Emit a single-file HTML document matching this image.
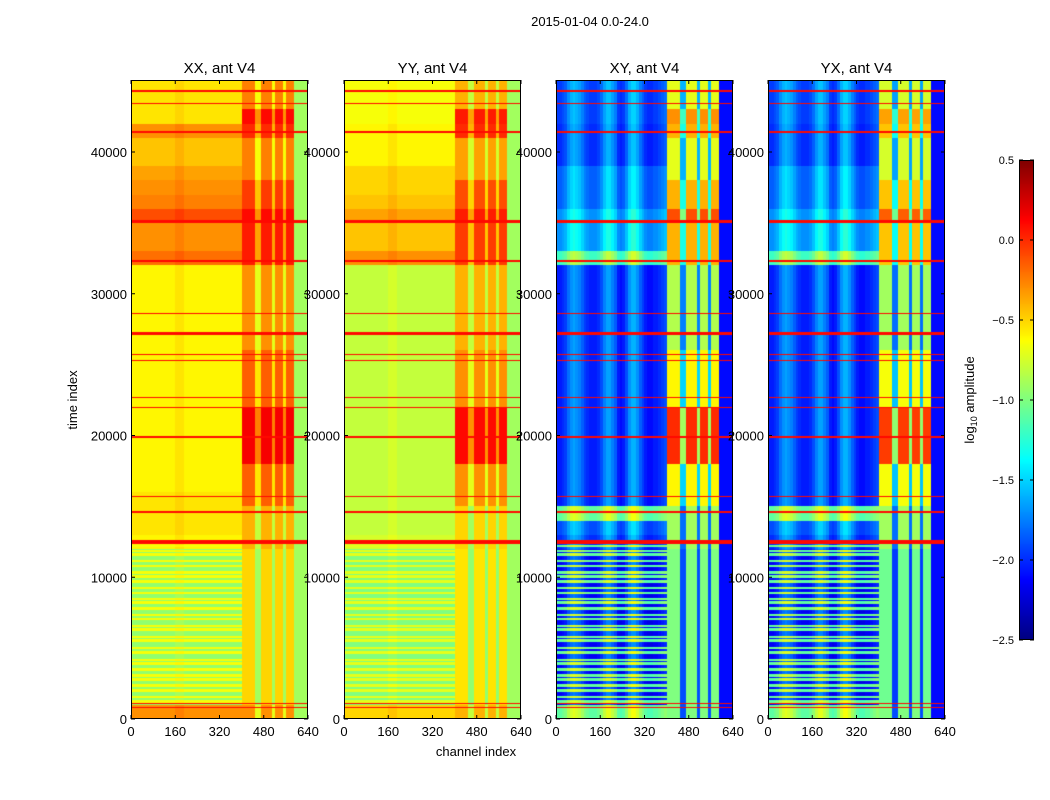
<!DOCTYPE html>
<html><head><meta charset="utf-8">
<style>
html,body{margin:0;padding:0;background:#fff;}
#wrap{position:relative;width:1050px;height:800px;overflow:hidden;font-family:"Liberation Sans",sans-serif;}
canvas{position:absolute;}
svg{position:absolute;left:0;top:0;}
</style></head>
<body>
<div id="wrap">
<canvas id="c0" width="177" height="639" style="left:131px;top:80px"></canvas>
<canvas id="c1" width="177" height="639" style="left:344px;top:80px"></canvas>
<canvas id="c2" width="177" height="639" style="left:556px;top:80px"></canvas>
<canvas id="c3" width="177" height="639" style="left:768px;top:80px"></canvas>
<canvas id="cb" width="15" height="480" style="left:1019px;top:160px"></canvas>
<svg id="ov" width="1050" height="800"></svg>
</div>
<script>
// ---- data ----
var panelTitles = ["XX, ant V4","YY, ant V4","XY, ant V4","YX, ant V4"];
var xTickLabels = [0,160,320,480,640];
var yTickLabels = [0,10000,20000,30000,40000];
var cbTicks = [0.5,0.0,-0.5,-1.0,-1.5,-2.0,-2.5];
// column type per 10-channel band: b=background, r=rfi, g=gap, e=edge
var colType = "bbbbbbbbbbbbbbbbbbbbbbbbbbbbbbbbbbbbbbbbrrrrrggrrrrgrrrgrrreeeee";
var colOffXX = [0,0,0,0,0,0,0,0,0,0,0,0,0,0,0,0,0.05,0.05,0.05,0,0,0,0,0,0,0,0,0,0,0,0,0,0,0,0,0,0,0,0,0];
var colOffXY = [-0.1,-0.1,-0.05,0,0.15,0.25,0.3,0.25,0.2,0.1,0,-0.05,-0.1,-0.1,-0.1,-0.05,0.05,0.2,0.3,0.3,0.2,0.1,-0.1,-0.15,-0.1,0.05,0.25,0.35,0.35,0.25,0.1,0,-0.1,-0.15,-0.15,-0.1,-0.1,-0.05,0,0.05];
// row values per 1000 time units (45 bands)
var bgXX = [-0.3,-0.95,-0.95,-0.95,-0.95,-0.95,-0.95,-0.95,-0.95,-0.95,-0.95,-0.95,-0.6,-0.55,-0.55,-0.55,-0.6,-0.6,-0.6,-0.6,-0.6,-0.6,-0.6,-0.6,-0.6,-0.6,-0.6,-0.6,-0.6,-0.6,-0.6,-0.6,-0.2,-0.3,-0.3,-0.1,-0.25,-0.3,-0.35,-0.45,-0.45,-0.3,-0.55,-0.55,-0.55];
var rfiXX = [-0.3,-0.5,-0.5,-0.5,-0.5,-0.5,-0.5,-0.5,-0.5,-0.5,-0.5,-0.5,-0.4,-0.4,-0.4,-0.15,-0.15,-0.15,0.15,0.15,0.15,0.15,-0.15,-0.15,-0.15,-0.15,-0.3,-0.3,-0.3,-0.3,-0.3,-0.3,0.05,0.05,0.05,0.1,-0.05,-0.05,-0.25,-0.25,-0.25,0.0,0.1,-0.25,-0.25];
var bgYY = [-0.5,-1.0,-1.0,-1.0,-1.0,-1.0,-1.0,-1.0,-1.0,-1.0,-1.0,-1.0,-0.75,-0.8,-0.8,-0.8,-0.8,-0.8,-0.8,-0.8,-0.8,-0.8,-0.8,-0.8,-0.8,-0.8,-0.8,-0.8,-0.8,-0.8,-0.8,-0.8,-0.3,-0.45,-0.45,-0.35,-0.45,-0.5,-0.5,-0.6,-0.6,-0.6,-0.65,-0.65,-0.65];
var rfiYY = [-0.4,-0.55,-0.55,-0.55,-0.55,-0.55,-0.55,-0.55,-0.55,-0.55,-0.55,-0.55,-0.5,-0.5,-0.5,-0.3,-0.3,-0.3,0.1,0.1,0.1,0.1,-0.3,-0.3,-0.3,-0.3,-0.4,-0.4,-0.4,-0.4,-0.4,-0.4,-0.05,-0.05,-0.05,0.05,-0.1,-0.1,-0.35,-0.35,-0.35,0.0,0.05,-0.4,-0.4];
var bgXY = [-1.0,-2.05,-2.05,-2.05,-2.05,-2.05,-2.05,-2.05,-2.05,-2.05,-2.05,-2.05,-1.9,-1.8,-1.0,-1.95,-1.95,-1.95,-1.95,-1.95,-1.95,-1.95,-1.95,-1.95,-1.95,-1.95,-1.95,-1.95,-1.95,-1.95,-1.95,-1.95,-1.1,-1.6,-1.6,-1.6,-1.75,-1.75,-1.75,-1.9,-1.9,-1.9,-1.85,-1.85,-1.85];
var rfiXY = [-1.0,-1.0,-1.0,-1.0,-1.0,-1.0,-1.0,-1.0,-1.0,-1.0,-1.0,-1.0,-0.9,-0.9,-0.9,-0.6,-0.6,-0.6,0.0,0.0,0.0,0.0,-0.6,-0.6,-0.6,-0.6,-0.85,-0.85,-0.85,-0.85,-0.85,-0.85,-0.4,-0.4,-0.4,-0.1,-0.4,-0.4,-0.7,-0.7,-0.7,-0.4,-0.3,-0.7,-0.7];
var bgYX = [-1.0,-2.05,-2.05,-2.05,-2.05,-2.05,-2.05,-2.05,-2.05,-2.05,-2.05,-2.05,-1.9,-1.8,-1.0,-1.95,-1.95,-1.95,-1.95,-1.95,-1.95,-1.95,-1.95,-1.95,-1.95,-1.95,-1.95,-1.95,-1.95,-1.95,-1.95,-1.95,-1.1,-1.6,-1.6,-1.6,-1.75,-1.75,-1.75,-1.9,-1.9,-1.9,-1.85,-1.85,-1.85];
var rfiYX = [-1.0,-1.05,-1.05,-1.05,-1.05,-1.05,-1.05,-1.05,-1.05,-1.05,-1.05,-1.05,-0.9,-0.9,-0.9,-0.65,-0.65,-0.65,-0.05,-0.05,-0.05,-0.05,-0.65,-0.65,-0.65,-0.65,-0.9,-0.9,-0.9,-0.9,-0.9,-0.9,-0.45,-0.45,-0.45,-0.15,-0.45,-0.45,-0.75,-0.75,-0.75,-0.45,-0.35,-0.75,-0.75];
var gapDelta = [-0.4,-0.4,-0.9,-0.9];
var edgeVal = [-0.9,-0.9,-2.1,-2.1];
var stripeTimes = [1250,1550,2000,2350,2800,3050,3500,3900,4150,4700,5000,5550,5800,6300,6550,7050,7350,7800,8200,8450,8900,9250,9700,10050,10350,10800,11150,11600,11850,12250];
var stripeVal = [-0.65,-0.7,-1.0,-1.0];
var lineTimes = [800,1100,12500,14600,15700,19900,22000,22700,25300,25700,27200,28600,32300,35100,41400,43400,44300];
var lineWidths = [80,80,250,120,80,120,80,60,60,60,150,60,150,200,150,80,80];
var lineVal = 0.1;

// ---- helpers ----
var VMIN=-2.5, VMAX=0.5, TMAX=45000, CHMAX=640, PW=177, PH=639;
function jet(v){
  var x=(v-VMIN)/(VMAX-VMIN); x=Math.max(0,Math.min(1,x));
  function c(a){return Math.round(255*Math.max(0,Math.min(1,a)));}
  return [c(1.5-Math.abs(4*x-3)),c(1.5-Math.abs(4*x-2)),c(1.5-Math.abs(4*x-1))];
}
function tOfRow(py){return (PH-0.5-py)/PH*45080;}
var bgs=[bgXX,bgYY,bgXY,bgYX], rfis=[rfiXX,rfiYY,rfiXY,rfiYX], offs=[colOffXX,colOffXX,colOffXY,colOffXY];
function value(p,ch,t){
  for(var i=0;i<lineTimes.length;i++){ if(Math.abs(t-lineTimes[i])<lineWidths[i]/2) return lineVal; }
  var b=Math.max(0,Math.min(44,Math.floor(t/1000)));
  var band=Math.min(63,Math.floor(ch/10));
  var ty=colType[band];
  var base=bgs[p][b];
  if(t>1000&&t<12300){ for(var k=0;k<stripeTimes.length;k++){ if(Math.abs(t-stripeTimes[k])<90){ base=stripeVal[p]; } } }
  if(ty==='b') return base+offs[p][band];
  if(ty==='r') return rfis[p][b];
  if(ty==='g') return rfis[p][b]+gapDelta[p];
  return edgeVal[p];
}
for(var p=0;p<4;p++){
  var cv=document.getElementById('c'+p), ctx=cv.getContext('2d');
  var img=ctx.createImageData(PW,PH);
  for(var y=0;y<PH;y++){
    var t=tOfRow(y);
    for(var x=0;x<PW;x++){
      var ch=(x+0.5)/PW*CHMAX;
      var col=jet(value(p,ch,t));
      var o=(y*PW+x)*4; img.data[o]=col[0];img.data[o+1]=col[1];img.data[o+2]=col[2];img.data[o+3]=255;
    }
  }
  ctx.putImageData(img,0,0);
}
(function(){
  var cv=document.getElementById('cb'),ctx=cv.getContext('2d');
  for(var y=0;y<480;y++){var v=VMAX-(y+0.5)/480*(VMAX-VMIN);var c=jet(v);ctx.fillStyle='rgb('+c+')';ctx.fillRect(0,y,15,1);}
})();
// ---- overlay ----
var NS="http://www.w3.org/2000/svg", ov=document.getElementById('ov');
function el(tag,attrs,txt){var e=document.createElementNS(NS,tag);for(var k in attrs)e.setAttribute(k,attrs[k]);if(txt!==undefined)e.textContent=txt;ov.appendChild(e);return e;}
var panelX=[131,344,556,768];
function yOf(t){return 80+PH-t/45080*PH;}
function xOf(p,ch){return panelX[p]+ch/CHMAX*PW;}
var e;
e=el('text',{x:590,y:26,'font-size':13,'text-anchor':'middle',fill:'#000'},"2015-01-04 0.0-24.0");


for(var p=0;p<4;p++){
  e=el('rect',{x:panelX[p]+0.5,y:80.5,width:PW-1,height:PH-1,fill:'none',stroke:'#000','stroke-width':1});
  
  
  e=el('text',{x:panelX[p]+PW/2,y:73,'font-size':15,'text-anchor':'middle'},panelTitles[p]);
  
  
  xTickLabels.forEach(function(v){
    var x=xOf(p,v);
    el('line',{x1:x,y1:719,x2:x,y2:715,stroke:'#000'});
    el('line',{x1:x,y1:80,x2:x,y2:84,stroke:'#000'});
    var t=el('text',{x:x,y:736,'font-size':13,'text-anchor':'middle'},String(v));
    
    
  });
  yTickLabels.forEach(function(v){
    var y=yOf(v);
    el('line',{x1:panelX[p],y1:y,x2:panelX[p]+4,y2:y,stroke:'#000'});
    el('line',{x1:panelX[p]+PW,y1:y,x2:panelX[p]+PW-4,y2:y,stroke:'#000'});
    var t=el('text',{x:panelX[p]-4,y:y+5,'font-size':13,'text-anchor':'end'},String(v));
    
    
  });
}
e=el('text',{x:0,y:0,'font-size':13,'text-anchor':'middle',transform:'translate(77,400) rotate(-90)'},"time index");


e=el('text',{x:476,y:756,'font-size':13,'text-anchor':'middle'},"channel index");


e=el('rect',{x:1019.5,y:160.5,width:14,height:479,fill:'none',stroke:'#000'});


cbTicks.forEach(function(v){
  var y=160+(VMAX-v)/(VMAX-VMIN)*480;
  el('line',{x1:1019,y1:y,x2:1023,y2:y,stroke:'#000'});
  el('line',{x1:1030,y1:y,x2:1034,y2:y,stroke:'#000'});
  var t=el('text',{x:1014,y:y+4,'font-size':11,'text-anchor':'end'},(v<0?'\u2212':'')+Math.abs(v).toFixed(1));
  
  
});
e=el('text',{x:0,y:0,'font-size':13,'text-anchor':'middle',transform:'translate(974,400) rotate(-90)'});
e.innerHTML='log<tspan font-size="9" dy="3">10</tspan><tspan dy="-3"> amplitude</tspan>';


</script>
</body></html>
